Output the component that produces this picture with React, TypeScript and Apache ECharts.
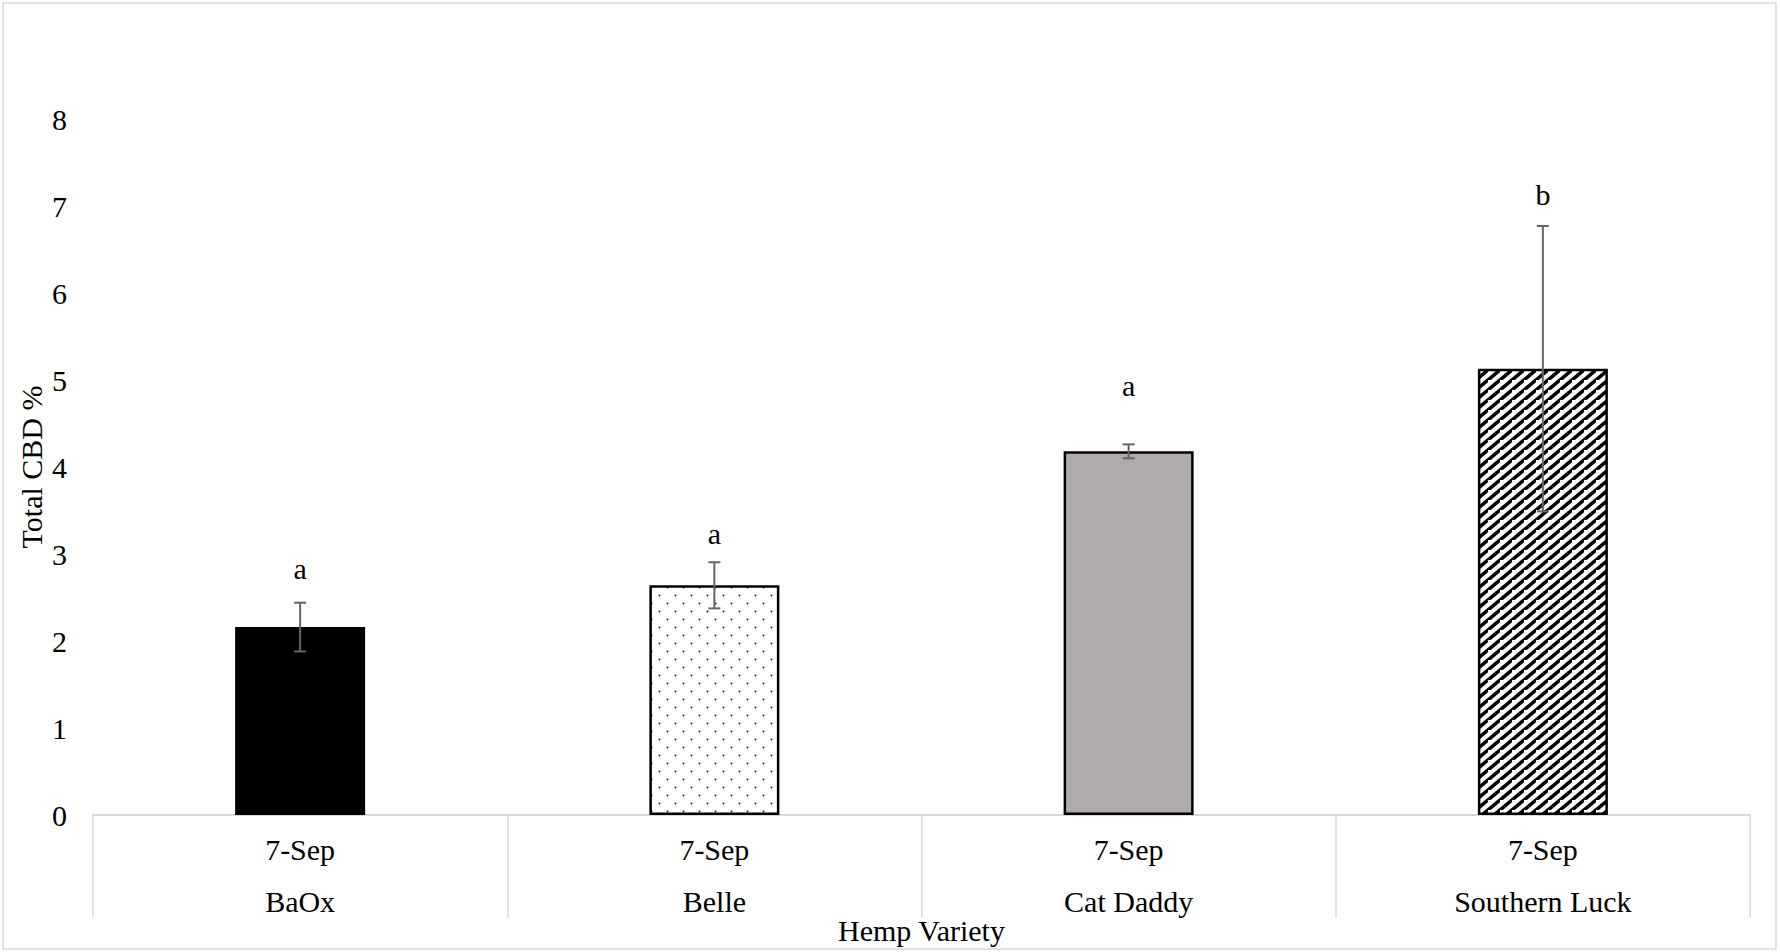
import React, { useEffect, useRef } from "react";
import * as echarts from "echarts";

// ---- data ----
const categories = ["BaOx", "Belle", "Cat Daddy", "Southern Luck"];
const dates = ["7-Sep", "7-Sep", "7-Sep", "7-Sep"];
const cbdMeans = [2.16, 2.64, 4.18, 5.13];
const cbdErrors = [0.28, 0.265, 0.08, 1.64];
const letters = ["a", "a", "a", "b"];
const letterPos = [2.83, 3.23, 4.94, 7.13];
const yMin = 0;
const yMax = 8;
const yInterval = 1;

const FONT = '"Liberation Serif", "Times New Roman", serif';
const FS = 30;

function makeDotTile(): HTMLCanvasElement {
  const c = document.createElement("canvas");
  c.width = 16;
  c.height = 16;
  const g = c.getContext("2d")!;
  g.fillStyle = "#ffffff";
  g.fillRect(0, 0, 16, 16);
  g.fillStyle = "#1a1a1a";
  [[3.5, 3.5], [11.5, 11.5]].forEach(([x, y]) => {
    g.beginPath();
    g.arc(x, y, 1.0, 0, Math.PI * 2);
    g.fill();
  });
  return c;
}

function makeStripeTile(): HTMLCanvasElement {
  const W = 12;
  const H = 10;
  const c = document.createElement("canvas");
  c.width = W;
  c.height = H;
  const g = c.getContext("2d")!;
  g.fillStyle = "#ffffff";
  g.fillRect(0, 0, W, H);
  g.strokeStyle = "#000000";
  g.lineWidth = 3.6;
  for (let k = 0; k <= 2; k++) {
    g.beginPath();
    g.moveTo(-W + k * W, 2 * H);
    g.lineTo(-W + k * W + 3 * W, 2 * H - 3 * H);
    g.stroke();
  }
  return c;
}

export default function App() {
  const ref = useRef<HTMLDivElement>(null);

  useEffect(() => {
    if (!ref.current) return;
    const chart = echarts.init(ref.current, null, { renderer: "svg" });

    const dotPattern = { image: makeDotTile(), repeat: "repeat", imageWidth: 16, imageHeight: 16 };
    const stripePattern = { image: makeStripeTile(), repeat: "repeat", imageWidth: 12, imageHeight: 10 };

    const barStyles = [
      { color: "#000000", borderColor: "#000000", borderWidth: 2 },
      { color: dotPattern, borderColor: "#000000", borderWidth: 2.5 },
      { color: "#afabab", borderColor: "#000000", borderWidth: 2.5 },
      { color: stripePattern, borderColor: "#000000", borderWidth: 2.5 },
    ];

    const option: any = {
      animation: false,
      backgroundColor: "#ffffff",
      grid: {
        left: 93,
        right: 30,
        top: 119,
        bottom: 137,
        containLabel: false,
        outerBoundsMode: "none",
      },
      xAxis: {
        type: "category",
        data: categories,
        name: "Hemp Variety",
        nameLocation: "middle",
        nameGap: 100,
        nameMoveOverlap: false,
        nameTextStyle: { fontFamily: FONT, fontSize: FS, color: "#000" },
        axisLine: { show: true, lineStyle: { color: "#d9d9d9", width: 2 } },
        axisTick: {
          show: true,
          interval: 0,
          alignWithLabel: false,
          length: 103,
          lineStyle: { color: "#d9d9d9", width: 1.5 },
        },
        axisLabel: {
          interval: 0,
          margin: 8,
          formatter: (value: string, idx: number) => `{d|${dates[idx]}}\n{n|${value}}`,
          rich: {
            d: { fontFamily: FONT, fontSize: FS, lineHeight: 52, color: "#000" },
            n: { fontFamily: FONT, fontSize: FS, lineHeight: 52, color: "#000" },
          },
        },
        splitLine: { show: false },
      },
      yAxis: {
        type: "value",
        min: yMin,
        max: yMax,
        interval: yInterval,
        name: "Total CBD %",
        nameLocation: "middle",
        nameGap: 47,
        nameMoveOverlap: false,
        nameTextStyle: { fontFamily: FONT, fontSize: FS, color: "#000" },
        axisLine: { show: false },
        axisTick: { show: false },
        splitLine: { show: false },
        axisLabel: { margin: 26, fontFamily: FONT, fontSize: FS, color: "#000" },
      },
      graphic: [
        {
          type: "rect",
          shape: { x: 3, y: 3, width: 1773, height: 946 },
          style: { fill: "none", stroke: "#d9d9d9", lineWidth: 1.5 },
          silent: true,
          z: -1,
        },
      ],
      series: [
        {
          type: "bar",
          barWidth: 130,
          data: cbdMeans.map((v, i) => ({ value: v, itemStyle: barStyles[i] })),
          z: 2,
        },
        {
          type: "custom",
          z: 5,
          data: cbdMeans.map((v, i) => [i, v - cbdErrors[i], v + cbdErrors[i]]),
          renderItem: (params: any, api: any) => {
            const idx = api.value(0);
            const lo = api.coord([idx, api.value(1)]);
            const hi = api.coord([idx, api.value(2)]);
            const cap = 6;
            const st = { stroke: "#666666", lineWidth: 2 };
            return {
              type: "group",
              children: [
                { type: "line", shape: { x1: hi[0], y1: hi[1], x2: lo[0], y2: lo[1] }, style: st },
                { type: "line", shape: { x1: hi[0] - cap, y1: hi[1], x2: hi[0] + cap, y2: hi[1] }, style: st },
                { type: "line", shape: { x1: lo[0] - cap, y1: lo[1], x2: lo[0] + cap, y2: lo[1] }, style: st },
              ],
            };
          },
        },
        {
          type: "custom",
          z: 6,
          data: letterPos.map((v, i) => [i, v]),
          renderItem: (params: any, api: any) => {
            const p = api.coord([api.value(0), api.value(1)]);
            return {
              type: "text",
              x: p[0],
              y: p[1],
              style: {
                text: letters[params.dataIndex],
                fontFamily: FONT,
                fontSize: FS,
                fill: "#000",
                align: "center",
                verticalAlign: "middle",
              },
            };
          },
        },
      ],
    };

    chart.setOption(option);
    return () => chart.dispose();
  }, []);

  return (
    <div
      ref={ref}
      style={{ position: "absolute", left: 0, top: 0, width: 1780, height: 952, background: "#fff" }}
    />
  );
}
